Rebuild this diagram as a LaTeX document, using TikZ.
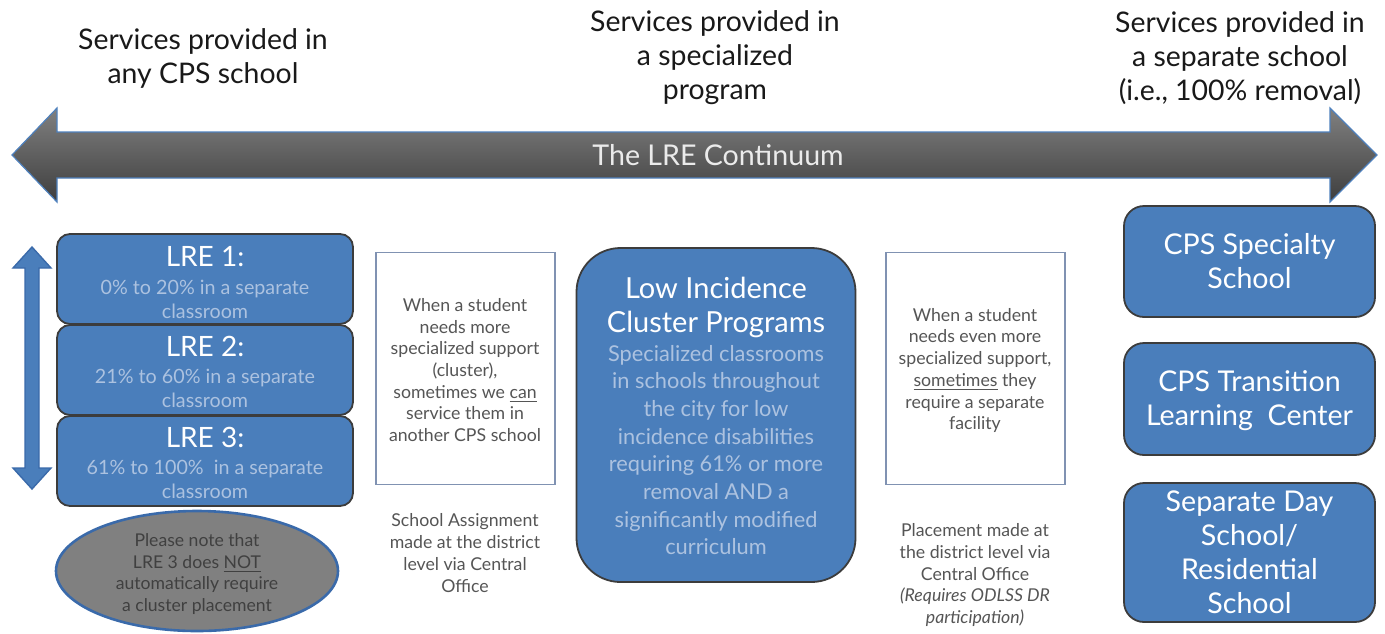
\documentclass[tikz,border=0pt]{standalone}
\usepackage{fontspec}
\setmainfont{Lato}
\usepackage{xcolor}
\usepackage{tikz}
\usetikzlibrary{positioning,calc,shapes}

\definecolor{boxblue}{RGB}{74,126,187}
\definecolor{subblue}{RGB}{172,194,224}
\definecolor{boxline}{RGB}{60,60,60}
\definecolor{noteline}{RGB}{128,146,178}
\definecolor{notetext}{RGB}{85,85,85}
\definecolor{arrowtop}{RGB}{128,128,128}
\definecolor{arrowbot}{RGB}{62,62,62}
\definecolor{arrowline}{RGB}{79,129,189}
\definecolor{ovalfill}{RGB}{128,128,128}
\definecolor{ovalline}{RGB}{58,106,170}

\begin{document}
\begin{tikzpicture}[x=0.5pt, y=-0.5pt,
    header/.style={align=center, inner sep=0, text=black!90, font=\fontsize{14.2}{17}\selectfont},
    lrebox/.style={draw=boxline, line width=0.9pt, fill=boxblue, rounded corners=6.5pt, minimum width=148pt, minimum height=45pt, inner sep=0},
    lretitle/.style={inner sep=0, text=white, font=\fontsize{14}{17}\selectfont},
    lresub/.style={align=center, inner sep=0, text=subblue, font=\fontsize{9.85}{12}\selectfont},
    notebox/.style={draw=noteline, line width=0.7pt, fill=white, minimum width=89.5pt, minimum height=116pt, inner sep=0},
    notetxt/.style={align=center, inner sep=0, text=notetext, font=\fontsize{8.85}{10.85}\selectfont},
    sidebox/.style={draw=boxline, line width=0.9pt, fill=boxblue, rounded corners=10pt, minimum width=125.5pt, align=center, text=white, inner sep=0, font=\fontsize{14.3}{17}\selectfont}]
    \useasboundingbox (0,0) rectangle (1385,633);

    % Headers
    \node[header] (hdany) at (203,58) {Services provided in\\any CPS school};
    \node[header] (hdspec) at (715,58) {Services provided in\\a specialized\\program};
    \node[header] (hdsep) at (1240,58) {Services provided in\\a separate school\\(i.e., 100\% removal)};

    % Continuum arrow
    \shadedraw[top color=arrowtop, bottom color=arrowbot, draw=arrowline, line width=0.6pt]
        (12,155) -- (57,108) -- (57,132) -- (1330,132) -- (1330,108) -- (1377,155)
        -- (1330,202) -- (1330,178) -- (57,178) -- (57,202) -- cycle;
    \node[inner sep=0, text=white!92!black, font=\fontsize{14.3}{16}\selectfont] (cont) at (718,155) {The LRE Continuum};

    % Vertical arrow
    \draw[fill=boxblue, draw=ovalline, line width=0.7pt]
        (32,247) -- (51,268) -- (39,268) -- (39,468) -- (51,468) -- (32,489)
        -- (13,468) -- (25,468) -- (25,268) -- (13,268) -- cycle;

    % LRE boxes
    \node[lrebox] (lre1) at (205,279) {};
    \node[lrebox] (lre2) at (205,370) {};
    \node[lrebox] (lre3) at (205,461) {};
    \node[lretitle] (lre1t) at (205,257) {LRE 1:};
    \node[lresub] (lre1s) at (205,299) {0\% to 20\% in a separate\\classroom};
    \node[lretitle] (lre2t) at (205,346) {LRE 2:};
    \node[lresub] (lre2s) at (205,388) {21\% to 60\% in a separate\\classroom};
    \node[lretitle] (lre3t) at (205,437) {LRE 3:};
    \node[lresub] (lre3s) at (205,479) {61\% to 100\%\ \ in a separate\\classroom};

    % Note oval
    \node[ellipse, draw=ovalline, line width=1.3pt, fill=ovalfill, minimum width=141pt, minimum height=60pt, inner sep=0] (oval) at (197,571) {};
    \node[notetxt, text=black!75, font=\fontsize{8.8}{10.9}\selectfont] (ovaltxt) at (197,574) {Please note that\\LRE 3 does \underline{NOT}\\automatically require\\a cluster placement};

    % Cluster note
    \node[notebox] (clnote) at (465.5,368.5) {};
    \node[notetxt] (clnotet) at (465,370) {When a student\\needs more\\specialized support\\(cluster),\\sometimes we \underline{can}\\service them in\\another CPS school};
    \node[notetxt] (classign) at (465,553) {School Assignment\\made at the district\\level via Central\\Office};

    % Low incidence box
    \node[draw=boxline, line width=0.9pt, fill=boxblue, rounded corners=22pt, minimum width=139.5pt, minimum height=167pt, inner sep=0] (lowinc) at (716,415) {};
    \node[inner sep=0, align=center, text=white, font=\fontsize{14.5}{17}\selectfont] (lowinct) at (716,307) {Low Incidence\\Cluster Programs};
    \node[inner sep=0, align=center, text=subblue, font=\fontsize{10.9}{13.85}\selectfont] (lowincs) at (716,450) {Specialized classrooms\\in schools throughout\\the city for low\\incidence disabilities\\requiring 61\% or more\\removal AND a\\significantly modified\\curriculum};

    % Separate note
    \node[notebox] (sepnote) at (975.5,368.5) {};
    \node[notetxt] (sepnotet) at (975,370.5) {When a student\\needs even more\\specialized support,\\\underline{sometimes} they\\require a separate\\facility};
    \node[notetxt] (sepplace) at (975,575) {Placement made at\\the district level via\\Central Office\\\textit{(Requires ODLSS DR}\\\textit{participation)}};

    % Separate schools
    \node[sidebox, minimum height=55.5pt] (specialty) at (1249.5,261.5) {CPS Specialty\\School};
    \node[sidebox, minimum height=56pt] (transition) at (1249.5,399) {\strut CPS Transition\\Learning\ \ Center};
    \node[sidebox, minimum height=69.5pt] (sepday) at (1249.5,552.5) {Separate Day\\School/\\Residential\\School};
\end{tikzpicture}
\end{document}
